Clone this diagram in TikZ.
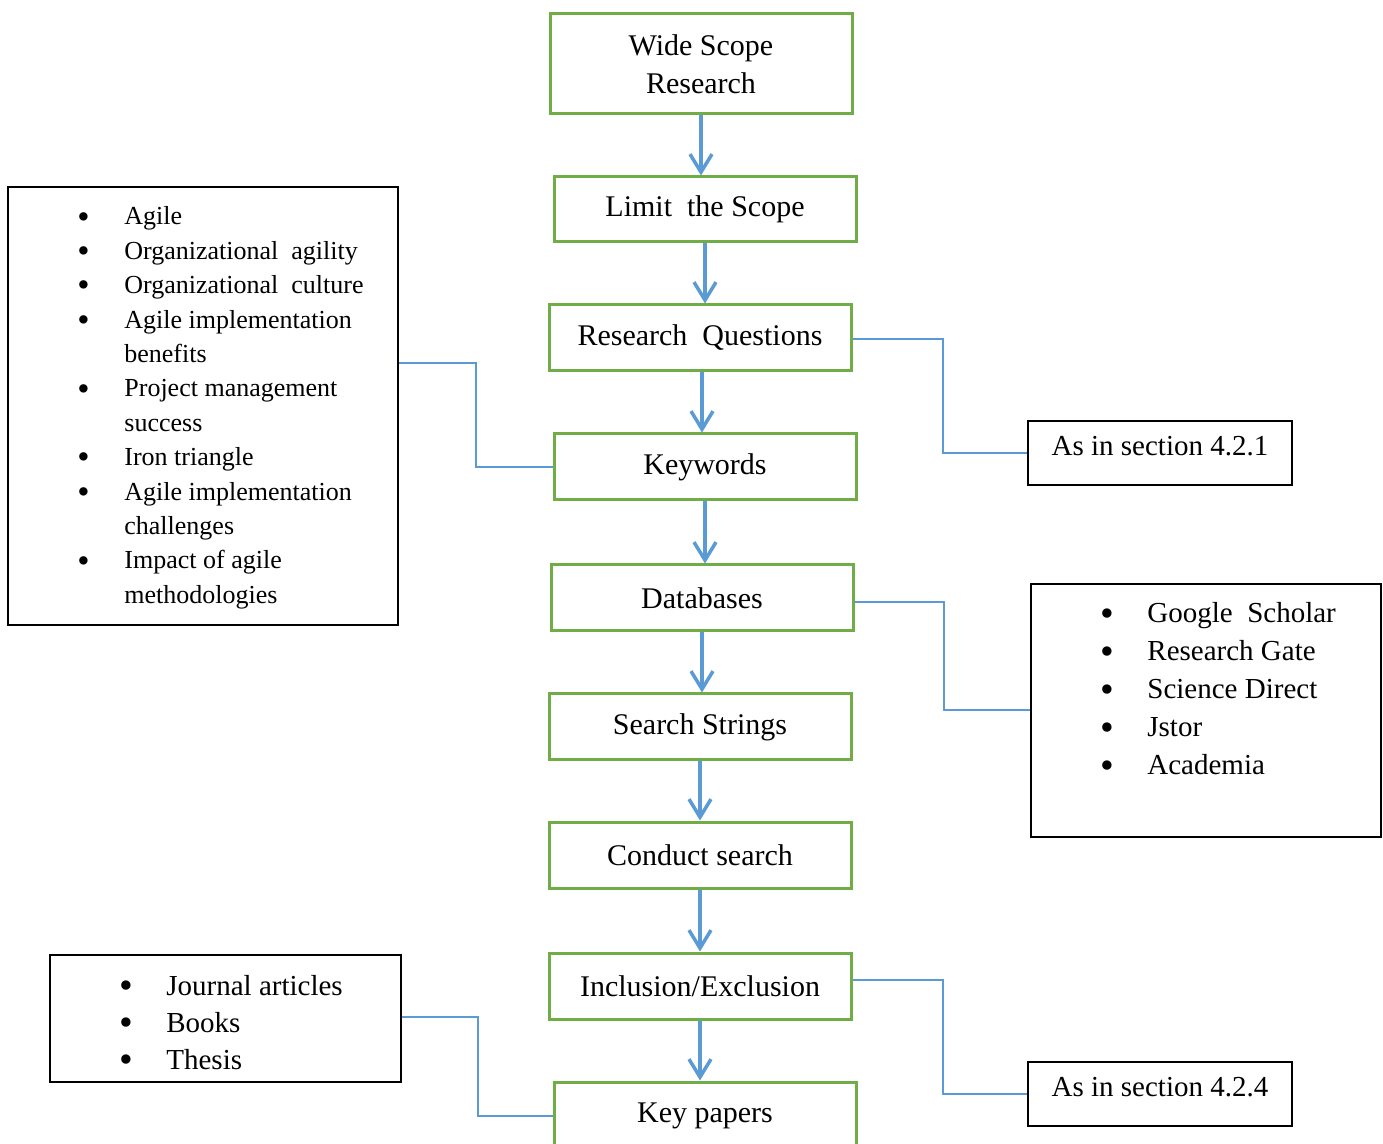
\documentclass[tikz,border=0pt]{standalone}
\usepackage{fontspec}
\setmainfont{Liberation Serif}
\usetikzlibrary{arrows.meta}
\definecolor{boxgreen}{RGB}{112,173,71}
\definecolor{flowblue}{RGB}{91,155,213}
% a list bullet somewhat heavier than the text one
\newcommand\listbul{\smash{\raisebox{-0.12em}{\scalebox{1.35}{\textbullet}}}}

\begin{document}
\begin{tikzpicture}[x=0.5pt,y=-0.5pt,
  stepbox/.style={draw=boxgreen, line width=1.5pt, minimum width=151pt,
    minimum height=33pt, inner sep=0pt, align=center,
    font=\fontsize{15}{19}\selectfont},
  notebox/.style={draw=black, line width=1pt, inner sep=0pt},
  sectionbox/.style={notebox, minimum width=132pt, minimum height=32pt,
    text depth=7pt, font=\fontsize{14.5}{18}\selectfont},
  flow/.style={draw=flowblue, line width=1.75pt,
    -{Straight Barb[length=9pt,width=11pt]}},
  link/.style={draw=flowblue, line width=1pt},
  listtext/.style={anchor=base west, inner sep=0pt, align=left}]

% canvas
\fill[white] (0,0) rectangle (1383,1144);
\useasboundingbox (0,0) rectangle (1383,1144);

% main sequence of steps
\node[stepbox, minimum height=50pt] (ws) at (701,64) {Wide Scope\\Research};
\node[stepbox, minimum height=32.5pt] (lim) at (705,209.5) {Limit\ \ the Scope};
\node[stepbox] (rq)  at (700,338)  {Research\ \ Questions};
\node[stepbox] (kw)  at (705,467)  {Keywords};
\node[stepbox] (db)  at (702,598)  {Databases};
\node[stepbox] (ss)  at (700,727)  {Search Strings};
\node[stepbox] (cs)  at (700,855)  {Conduct search};
\node[stepbox] (inc) at (700,986)  {Inclusion/Exclusion};
\node[stepbox, minimum height=34pt] (key) at (705,1116) {Key papers};

% arrows between steps
\draw[flow] (ws.south)  -- (ws.south |- lim.north);
\draw[flow] (lim.south) -- (lim.south |- rq.north);
\draw[flow] ([xshift=1pt]rq.south) -- ([xshift=1pt]rq.south |- kw.north);
\draw[flow] (kw.south)  -- (kw.south |- db.north);
\draw[flow] (db.south)  -- (db.south |- ss.north);
\draw[flow] (ss.south)  -- (ss.south |- cs.north);
\draw[flow] (cs.south)  -- (cs.south |- inc.north);
\draw[flow] (inc.south) -- (inc.south |- key.north);

% side boxes
\node[notebox, minimum width=195pt, minimum height=219pt] (kwl) at (203,406) {};
\node[listtext, font=\fontsize{13}{17.2}\selectfont] (kwlt) at (77,225) {%
  \begin{tabular}[t]{@{}p{23.5pt}@{}l@{}}
  \listbul & Agile\\
  \listbul & Organizational\ \ agility\\
  \listbul & Organizational\ \ culture\\
  \listbul & Agile implementation\\
           & benefits\\
  \listbul & Project management\\
           & success\\
  \listbul & Iron triangle\\
  \listbul & Agile implementation\\
           & challenges\\
  \listbul & Impact of agile\\
           & methodologies
  \end{tabular}};

\node[sectionbox] (sec1) at (1160,453) {As in section 4.2.1};

\node[notebox, minimum width=175pt, minimum height=126.5pt] (dbl) at (1206,710.5) {};
\node[listtext, font=\fontsize{14.5}{19}\selectfont] (dblt) at (1100,623) {%
  \begin{tabular}[t]{@{}p{23.5pt}@{}l@{}}
  \listbul & Google\ \ Scholar\\
  \listbul & Research Gate\\
  \listbul & Science Direct\\
  \listbul & Jstor\\
  \listbul & Academia
  \end{tabular}};

\node[sectionbox] (sec4) at (1160,1094) {As in section 4.2.4};

\node[notebox, minimum width=175.5pt, minimum height=63.5pt] (typ) at (225.5,1018.5) {};
\node[listtext, font=\fontsize{14.5}{18.5}\selectfont] (typt) at (119,995) {%
  \begin{tabular}[t]{@{}p{23.5pt}@{}l@{}}
  \listbul & Journal articles\\
  \listbul & Books\\
  \listbul & Thesis
  \end{tabular}};

% connectors from steps to side boxes
\draw[link] ([yshift=-0.5pt]rq.east)  -- ++(90,0) |- (sec1.west);
\draw[link] ([yshift=-2pt]db.east)  -- ++(89,0) |- (dbl.west);
\draw[link] ([yshift=3pt]inc.east) -- ++(90,0) |- (sec4.west);
\draw[link] ([yshift=21.5pt]kwl.east) -- ++(77,0) |- (kw.west);
\draw[link] ([yshift=0.75pt]typ.east) -- ++(76,0) |- (key.west);
\end{tikzpicture}
\end{document}
